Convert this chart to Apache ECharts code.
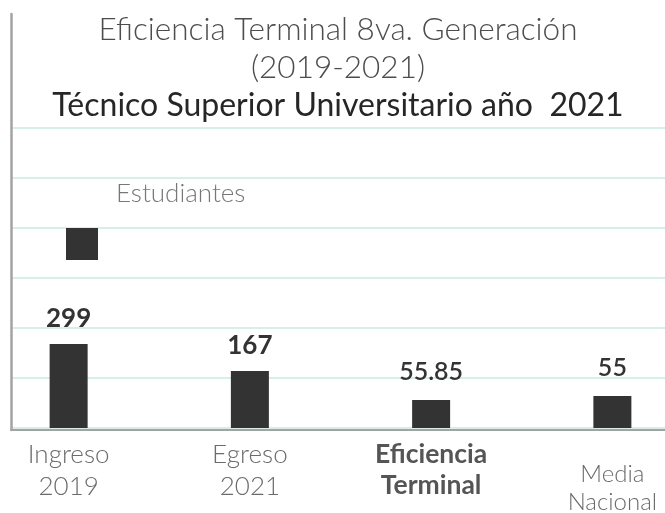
<!DOCTYPE html>
<html>
<head>
<meta charset="utf-8">
<script src="https://cdn.jsdelivr.net/npm/echarts@6/dist/echarts.min.js"></script>
<style>
html,body{margin:0;padding:0;background:#fff;}
#c{width:665px;height:513px;}
</style>
</head>
<body>
<div id="c"></div>
<script>
// ---- data ----
const categories = ['Ingreso\n2019', 'Egreso\n2021', 'Eficiencia\nTerminal', 'Media\nNacional'];
// bar heights as drawn (axis units, gridline every 50)
const barValues = [84, 57, 28, 32];
// value labels printed above the bars
const valueLabels = ['299', '167', '55.85', '55'];
const seriesName = 'Estudiantes';
const titleLines = ['Eficiencia Terminal 8va. Generación', '(2019-2021)', 'Técnico Superior Universitario año  2021'];

const FONT = 'Lato, "Open Sans", sans-serif';
const chart = echarts.init(document.getElementById('c'), null, {renderer: 'canvas'});

const catRich = {
  n: {fontFamily: FONT, fontSize: 26, fontWeight: 300, color: '#6b6b6b', lineHeight: 32, align: 'center'},
  b: {fontFamily: FONT, fontSize: 26.5, fontWeight: 'bold', color: '#555555', lineHeight: 31, align: 'center'},
  m: {fontFamily: FONT, fontSize: 24, fontWeight: 300, color: '#6b6b6b', lineHeight: 28, align: 'center'},
  sp: {fontSize: 1, lineHeight: 21}
};

const option = {
  animation: false,
  backgroundColor: '#ffffff',
  title: {
    text: '{a|' + titleLines[0] + '}\n{a|' + titleLines[1] + '}\n{b|' + titleLines[2] + '}',
    left: 338, top: 11, padding: 0, textAlign: 'center',
    textStyle: {
      rich: {
        a: {fontFamily: FONT, fontSize: 31.5, fontWeight: 300, color: '#4d4d4d', lineHeight: 38, align: 'center'},
        b: {fontFamily: FONT, fontSize: 32, fontWeight: 'normal', color: '#262626', lineHeight: 38, align: 'center'}
      }
    }
  },
  legend: [
    {
      data: [seriesName], left: 66, top: 228, padding: 0,
      icon: 'rect', itemWidth: 32, itemHeight: 32,
      formatter: function () { return ''; },
      selectedMode: false
    },
    {
      data: [seriesName], left: 111, top: 181, padding: 0,
      icon: 'rect', itemWidth: 0, itemHeight: 1,
      itemStyle: {opacity: 0},
      selectedMode: false,
      textStyle: {fontFamily: FONT, fontSize: 26, fontWeight: 300, color: '#777777'}
    }
  ],
  grid: [
    {left: -22, width: 725, top: 128, bottom: 85, outerBoundsMode: 'none', containLabel: false},
    {left: 12, right: 0, top: 128, bottom: 85, outerBoundsMode: 'none'},
    {left: 11, right: 0, top: 14, bottom: 83, outerBoundsMode: 'none'}
  ],
  xAxis: [
    {
      gridIndex: 0, type: 'category', data: categories,
      axisLine: {show: false}, axisTick: {show: false},
      axisLabel: {
        interval: 0, margin: 11,
        formatter: function (v) {
          const parts = v.split('\n');
          if (parts[0] === 'Eficiencia') return '{b|' + parts[0] + '}\n{b|' + parts[1] + '}';
          if (parts[0] === 'Media') return '{sp| }\n{m|' + parts[0] + '}\n{m|' + parts[1] + '}';
          return '{n|' + parts[0] + '}\n{n|' + parts[1] + '}';
        },
        rich: catRich
      }
    },
    {gridIndex: 1, type: 'value', show: false, min: 0, max: 1},
    {
      gridIndex: 2, type: 'value', min: 0, max: 1,
      axisLine: {show: true, lineStyle: {color: '#a3a3a3', width: 2}},
      axisTick: {show: false}, axisLabel: {show: false}, splitLine: {show: false}
    }
  ],
  yAxis: [
    {gridIndex: 0, type: 'value', min: 0, max: 300, interval: 50, show: false, splitLine: {show: false}},
    {
      gridIndex: 1, type: 'value', min: 0, max: 300, interval: 50,
      axisLine: {show: false}, axisTick: {show: false}, axisLabel: {show: false},
      splitLine: {show: true, lineStyle: {color: '#d6efe9', width: 2}}
    },
    {
      gridIndex: 2, type: 'value', min: 0, max: 1,
      axisLine: {show: true, lineStyle: {color: '#a3a3a3', width: 2.5}},
      axisTick: {show: false}, axisLabel: {show: false}, splitLine: {show: false}
    }
  ],
  series: [{
    name: seriesName,
    type: 'bar',
    xAxisIndex: 0, yAxisIndex: 0,
    barWidth: 38,
    itemStyle: {color: '#333333'},
    data: barValues.map(function (v, i) {
      return {
        value: v,
        label: {distance: i < 2 ? 12 : 16, fontWeight: i < 2 ? 'bold' : 600, fontSize: i < 2 ? 26 : 25}
      };
    }),
    label: {
      show: true, position: 'top',
      fontFamily: FONT, fontSize: 24, color: '#333333',
      formatter: function (p) { return valueLabels[p.dataIndex]; }
    }
  }]
};
chart.setOption(option);
</script>
</body>
</html>
